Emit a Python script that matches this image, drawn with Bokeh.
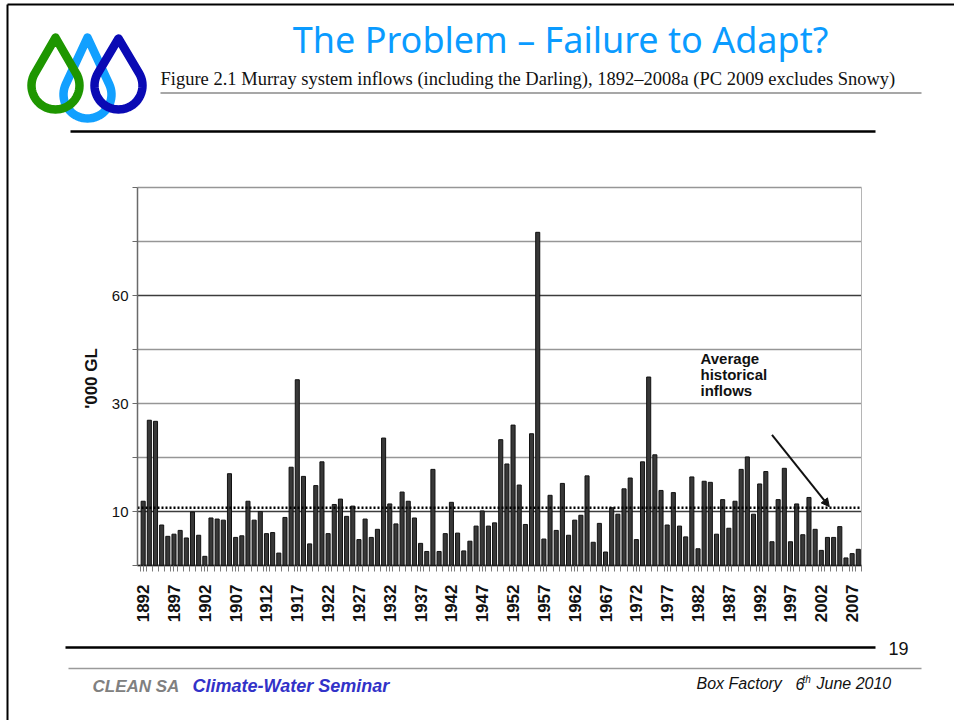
import math
from bokeh.plotting import figure
from bokeh.models import (FixedTicker, Label, PolyAnnotation, Arrow, NormalHead,
                          Range1d, LinearAxis)
from bokeh.embed import file_html
from bokeh.resources import INLINE

# ---------------- data ----------------
years = list(range(1892, 2009))
inflows = [
    11.9, 26.9, 26.7, 7.5, 5.4, 5.8, 6.5, 5.1, 9.9, 5.6,      # 1892-1901
    1.7, 8.8, 8.6, 8.4, 17.0, 5.2, 5.5, 11.9, 8.4, 10.0,      # 1902-1911
    5.9, 6.1, 2.3, 8.9, 18.2, 34.4, 16.5, 4.0, 14.8, 19.2,    # 1912-1921
    5.9, 11.3, 12.3, 9.1, 11.0, 4.8, 8.6, 5.2, 6.7, 23.6,     # 1922-1931
    11.4, 7.7, 13.6, 11.9, 8.8, 4.1, 2.6, 17.8, 2.6, 5.9,     # 1932-1941
    11.7, 6.0, 2.7, 4.5, 7.3, 10.1, 7.3, 7.9, 23.3, 18.8,     # 1942-1951
    26.0, 14.9, 7.6, 24.4, 61.7, 4.9, 13.0, 6.5, 15.2, 5.6,   # 1952-1961
    8.4, 9.3, 16.6, 4.3, 7.8, 2.5, 10.7, 9.5, 14.2, 16.2,     # 1962-1971
    4.8, 19.2, 34.9, 20.5, 13.9, 7.5, 13.5, 7.3, 5.3, 16.4,   # 1972-1981
    3.1, 15.6, 15.4, 5.8, 12.2, 6.9, 11.9, 17.8, 20.1, 9.5,   # 1982-1991
    15.1, 17.4, 4.4, 12.2, 18.0, 4.4, 11.4, 5.7, 12.6, 6.7,   # 1992-2001
    2.8, 5.2, 5.2, 7.2, 1.4, 2.2, 3.0,                        # 2002-2008
]
label_years = list(range(1892, 2008, 5))
grid_ticks = [0, 10, 20, 30, 40, 50, 60, 70]
tick_labels = {10: "10", 30: "30", 50: "60"}
dark_grid = [10, 50]
avg_inflow = 10.7
arrow_start = (1994.0, 24.2)
arrow_end = (2003.3, 10.9)

title = "The Problem \u2013 Failure to Adapt?"
caption = ("Figure 2.1 Murray system inflows (including the Darling), "
           "1892\u20132008a (PC 2009 excludes Snowy)")
note_lines = ["Average", "historical", "inflows"]

# ---------------- geometry (page px) ----------------
FX0, FX1 = 137, 861     # chart area, page pixels
FY0, FY1 = 187, 565
X0, X1 = 1891.08, 2008.52
Y0, Y1 = 0, 70
W, H = 954, 720
BASE_SHIFT = 0.37       # renderer places alphabetic baseline this many em lower


def px(x):
    return X0 + (x - FX0) * (X1 - X0) / (FX1 - FX0)


def py(y):
    return Y0 + (FY1 - y) * (Y1 - Y0) / (FY1 - FY0)


p = figure(width=W, height=H, output_backend="svg", toolbar_location=None,
           x_range=Range1d(px(0), px(W)), y_range=Range1d(py(H), py(0)),
           x_axis_type=None, y_axis_type=None,
           min_border=0, min_border_left=0, min_border_right=0,
           min_border_top=0, min_border_bottom=0)
p.outline_line_color = None
p.background_fill_color = "white"
p.border_fill_color = "white"

light = [t for t in grid_ticks if t not in dark_grid]
# grid lines
p.segment(x0=[X0] * len(light), x1=[X1] * len(light), y0=light, y1=light,
          line_color="#969696", line_width=1.3)
p.segment(x0=[X0] * len(dark_grid), x1=[X1] * len(dark_grid), y0=dark_grid, y1=dark_grid,
          line_color="#3c3c3c", line_width=1.3)
# right edge of chart
p.segment(x0=[X1], x1=[X1], y0=[Y0], y1=[Y1], line_color="#b5b5b5", line_width=1)

# bars
p.vbar(x=years, top=inflows, width=0.66, fill_color="#383838",
       line_color="#111111", line_width=1)

# average line
p.segment(x0=[X0], x1=[X1], y0=[avg_inflow], y1=[avg_inflow], line_color="black",
          line_width=2.5, line_dash="2 2")

# y axis
ya = LinearAxis(fixed_location=X0, bounds=(Y0, Y1),
                ticker=FixedTicker(ticks=grid_ticks))
ya.major_label_overrides = {t: tick_labels.get(t, "") for t in grid_ticks}
ya.major_label_text_font = "Liberation Sans"
ya.major_label_text_font_size = "15px"
ya.major_label_text_color = "#111111"
ya.axis_line_color = "#6a6a6a"
ya.axis_line_width = 1.5
ya.major_tick_in = 0
ya.major_tick_out = 5
ya.major_tick_line_color = "#6a6a6a"
ya.minor_tick_line_color = None
ya.major_label_standoff = 4
p.add_layout(ya, "left")

# x axis
xa = LinearAxis(fixed_location=Y0, bounds=(X0, X1),
                ticker=FixedTicker(ticks=label_years,
                                   minor_ticks=[y - 0.5 for y in years] + [years[-1] + 0.5]))
xa.major_label_orientation = math.pi / 2
xa.major_label_text_font = "Liberation Sans"
xa.major_label_text_font_style = "bold"
xa.major_label_text_font_size = "17px"
xa.major_label_text_color = "#111111"
xa.axis_line_color = "#1a1a1a"
xa.axis_line_width = 1.5
xa.major_tick_in = 0
xa.major_tick_out = 6
xa.minor_tick_in = 0
xa.minor_tick_out = 6
xa.major_tick_line_color = "#7a7a7a"
xa.minor_tick_line_color = "#7a7a7a"
xa.major_label_standoff = 13
p.add_layout(xa, "below")


def text(x, base, s, size, color="#111111", font="Liberation Sans", style="normal",
         align="left"):
    p.add_layout(Label(x=px(x), y=py(base - BASE_SHIFT * size), text=s,
                       text_font=font, text_font_style=style,
                       text_font_size=f"{size}px", text_color=color,
                       text_align=align, text_baseline="alphabetic"))


# arrow + note
p.add_layout(Arrow(x_start=arrow_start[0], y_start=arrow_start[1],
                   x_end=arrow_end[0], y_end=arrow_end[1],
                   line_color="#111111", line_width=2,
                   end=NormalHead(size=8, fill_color="#111111", line_color="#111111")))
for i, t in enumerate(note_lines):
    text(700, 364 + 16 * i, t, 15, style="bold")

# y axis title
p.add_layout(Label(x=px(91), y=py(378), text="'000 GL", angle=math.pi / 2,
                   text_font="Liberation Sans", text_font_style="bold",
                   text_font_size="17px", text_align="center",
                   text_baseline="middle", text_color="#111111"))


# ---------------- slide decoration ----------------
def hline(x0, x1, y, w, color):
    p.add_layout(PolyAnnotation(xs=[px(x0), px(x1), px(x1), px(x0)],
                                ys=[py(y - w / 2), py(y - w / 2), py(y + w / 2), py(y + w / 2)],
                                fill_color=color, fill_alpha=1, line_color=None))


def vline(x, y0, y1, w, color):
    p.add_layout(PolyAnnotation(xs=[px(x - w / 2), px(x + w / 2), px(x + w / 2), px(x - w / 2)],
                                ys=[py(y0), py(y0), py(y1), py(y1)],
                                fill_color=color, fill_alpha=1, line_color=None))


# slide border
hline(7, W, 4, 2, "black")
vline(7, 4, H, 2, "black")


# logo drops
def drop(cx, cy, ty, r, color):
    d = cy - ty
    a = math.acos(r / d)
    xs, ys = [px(cx)], [py(ty)]
    m = 40
    start = -math.pi / 2 + a
    end = 3 * math.pi / 2 - a
    for k in range(m + 1):
        t = start + (end - start) * k / m
        xs.append(px(cx + r * math.cos(t)))
        ys.append(py(cy + r * math.sin(t)))
    p.add_layout(PolyAnnotation(xs=xs, ys=ys, fill_alpha=0, line_color=color,
                                line_alpha=1, line_width=8.5, line_join="round"))


drop(87, 94, 37, 24, "#12a0ff")
drop(55, 85, 37, 24, "#1e9600")
drop(118, 85, 38, 24, "#0a0ab4")

# title & caption
text(560, 52, title, 36, color="#0a9bff", font="Noto Sans", align="center")
text(160, 85, caption, 18.5, font="Liberation Serif")
hline(160, 921, 92.5, 1.5, "#8a8a8a")

# chart frame lines
hline(70, 875, 131, 2.5, "black")
hline(65, 875, 647, 2.5, "black")
text(888, 655, "19", 18)

# footer
hline(68, 921, 668, 1.5, "#9a9a9a")
text(92, 692, "CLEAN SA", 17, color="#808080", style="bold italic")
text(192, 692, "Climate-Water Seminar", 18, color="#3232c8", style="bold italic")
text(696, 689, "Box Factory", 16, style="italic")
text(795, 689, "6", 16, style="italic")
text(802, 683, "th", 10, style="italic")
text(816, 689, "June 2010", 16, style="italic")

open("out.html", "w").write(file_html(p, INLINE))
